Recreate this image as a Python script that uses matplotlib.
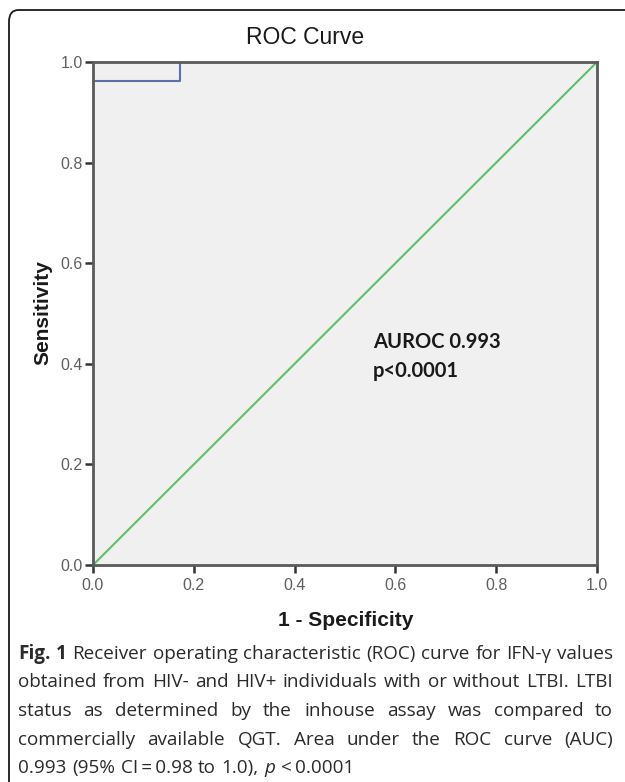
import matplotlib
matplotlib.use("Agg")
import matplotlib.pyplot as plt
from matplotlib.patches import FancyBboxPatch

# ROC curve
fpr = [0.0, 0.0, 0.173, 0.173, 1.0]
tpr = [0.0, 0.963, 0.963, 1.0, 1.0]
ref_line = [0.0, 1.0]
ticks = [0.0, 0.2, 0.4, 0.6, 0.8, 1.0]
tick_labels = ["0.0", "0.2", "0.4", "0.6", "0.8", "1.0"]
auc_text = "AUROC 0.993\np<0.0001"

# caption: each line is a list of (word, weight, style), plus a justify flag
caption_lines = [
    ([("Fig.", "bold", "normal"), ("1", "bold", "normal")] +
     [(w, "normal", "normal") for w in
      "Receiver operating characteristic (ROC) curve for IFN-\u03b3 values".split()], True),
    ([(w, "normal", "normal") for w in
      "obtained from HIV- and HIV+ individuals with or without LTBI. LTBI".split()], True),
    ([(w, "normal", "normal") for w in
      "status as determined by the inhouse assay was compared to".split()], True),
    ([(w, "normal", "normal") for w in
      "commercially available QGT. Area under the ROC curve (AUC)".split()], True),
    ([("0.993", "normal", "normal"), ("(95%", "normal", "normal"),
      ("CI\u2009=\u20090.98", "normal", "normal"), ("to", "normal", "normal"),
      ("1.0),", "normal", "normal"), ("p", "normal", "italic"),
      ("<\u20090.0001", "normal", "normal")], False),
]

W, H = 625, 782
fig = plt.figure(figsize=(W / 100, H / 100), dpi=100)

# rounded frame around the whole figure (clipped by the image edges)
frame = FancyBboxPatch((9 / W, -0.05), 1.1, 1 - 10 / H + 0.05,
                       boxstyle="round,pad=0,rounding_size=0.015",
                       transform=fig.transFigure, fill=False,
                       edgecolor="#1a1a1a", linewidth=1.3)
fig.patches.append(frame)

ax = fig.add_axes([93 / W, 1 - 565 / H, 504 / W, 503 / H])
ax.set_facecolor("#f0f0f0")
ax.plot(ref_line, ref_line, color="#5fbf6a", linewidth=1.5, zorder=2)
ax.plot(fpr, tpr, color="#5d6fa6", linewidth=1.5, zorder=2)
ax.set_xlim(0, 1)
ax.set_ylim(0, 1)
ax.set_xticks(ticks)
ax.set_xticklabels(tick_labels)
ax.set_yticks(ticks)
ax.set_yticklabels(tick_labels)
for s in ax.spines.values():
    s.set_color("#5a5a5a")
    s.set_linewidth(2.0)
    s.set_zorder(3)
ax.tick_params(direction="out", length=6, width=1.8, color="#333333",
               labelcolor="#5f5f5f", labelsize=11.5,
               labelfontfamily="Liberation Sans")
ax.tick_params(axis="x", pad=3)
ax.tick_params(axis="y", pad=1.5)

ax.text(0.556, 0.415, auc_text, fontsize=14.5, fontweight="bold",
        family="Lato", color="#1a1a1a", va="center", ha="left",
        linespacing=1.55)

fig.text(305 / W, 1 - 37 / H, "ROC Curve", fontsize=16.5, family="Liberation Sans",
         color="#1a1a1a", ha="center", va="center")
fig.text(346 / W, 1 - 620 / H, "1 - Specificity", fontsize=15, fontweight="bold",
         family="Liberation Sans", color="#1a1a1a", ha="center", va="center")
fig.text(43 / W, 1 - 313 / H, "Sensitivity", fontsize=15, fontweight="bold",
         family="Liberation Sans", color="#1a1a1a", ha="center", va="center",
         rotation=90)

# caption, placed word by word so the lines can be justified
fig.canvas.draw()
renderer = fig.canvas.get_renderer()
line_y = [654, 682, 711, 740, 768]
left, right = 18, 613
cap_size = 13.6
for (words, justify), yy in zip(caption_lines, line_y):
    arts = []
    for txt, weight, style in words:
        t = fig.text(0, 1 - yy / H, txt, fontsize=cap_size, family="Open Sans",
                     fontweight=weight, fontstyle=style, color="#2a2a2a",
                     ha="left", va="center")
        arts.append((t, t.get_window_extent(renderer=renderer).width))
    total = sum(wd for _, wd in arts)
    if justify and len(arts) > 1:
        gap = (right - left - total) / (len(arts) - 1)
    else:
        gap = cap_size * 100 / 72 * 0.30
    x = left
    for t, wd in arts:
        t.set_x(x / W)
        x += wd + gap

fig.savefig("out.png", dpi=100)
